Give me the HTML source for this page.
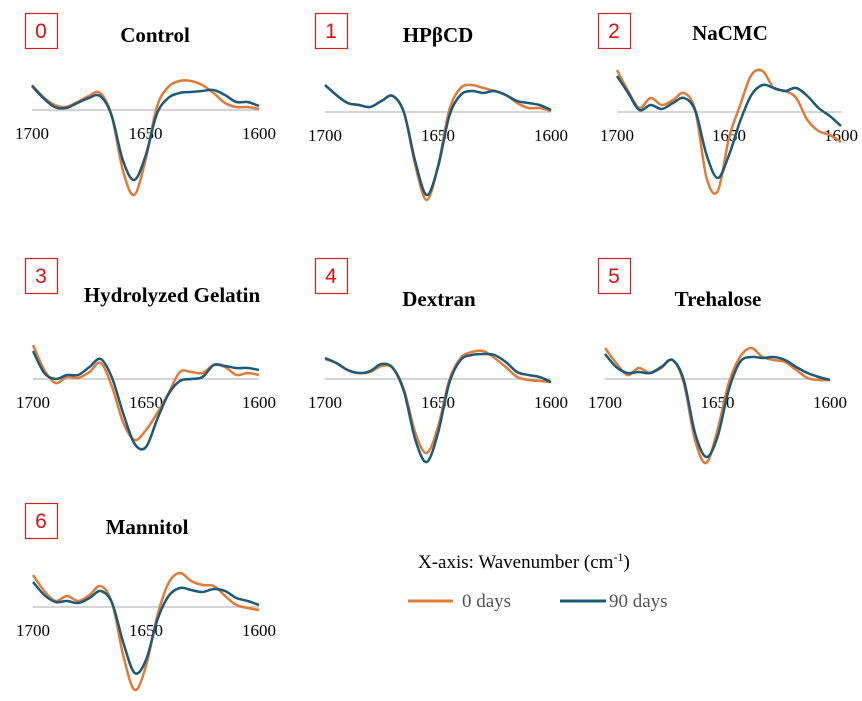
<!DOCTYPE html>
<html><head><meta charset="utf-8"><style>
body{margin:0;background:#fff;width:862px;height:701px;overflow:hidden}
svg{display:block}
.tk{font-family:"Liberation Serif",serif;font-size:17px;fill:#000}
.tt{font-family:"Liberation Serif",serif;font-size:21px;font-weight:bold;fill:#000}
.nb{font-family:"Liberation Sans",sans-serif;font-size:21px;fill:#e01010}
.lg{font-family:"Liberation Serif",serif;font-size:19px;fill:#555}
</style></head><body>
<svg id="chart" width="862" height="701">
<g>
<text x="418" y="568" class="tk" style="font-size:19px">X-axis: Wavenumber (cm<tspan dy="-7" font-size="12">-1</tspan><tspan dy="7">)</tspan></text>
<line x1="408" y1="601" x2="453" y2="601" stroke="#e07b39" stroke-width="3"/>
<text x="462" y="607" class="lg">0 days</text>
<line x1="560" y1="601" x2="606" y2="601" stroke="#1b5a78" stroke-width="3"/>
<text x="609" y="607" class="lg">90 days</text>
</g>
</svg>
<script>
const wavenumbers=[1700,1695,1690,1685,1680,1675,1670,1665,1660,1655,1650,1645,1640,1635,1630,1625,1620,1615,1610,1605,1600];
const panelNames=["Control","HPβCD","NaCMC","Hydrolyzed Gelatin","Dextran","Trehalose","Mannitol"];
const day0Control=[25,13,5,3,8,14,17,-5,-60,-85,-50,3,23,29,29,25,17,7,3,3,1];
const day90Control=[24,12,3,2,7,12,14,-5,-50,-70,-46,-4,12,17,18,19,20,15,8,8,4];
const day0HPBCD=[27,17,9,7,5,11,16,-1,-54,-88,-54,2,24,27,24,21,17,9,4,4,1];
const day90HPBCD=[27,17,9,7,5,11,16,-1,-50,-83,-55,-4,17,21,19,21,17,11,9,7,2];
const day0NaCMC=[42,21,4,14,7,12,19,1,-66,-79,-26,7,37,41,24,21,14,-8,-19,-23,-30];
const day90NaCMC=[36,19,2,7,3,9,14,1,-43,-66,-43,-9,17,27,24,21,24,16,4,-4,-14];
const day0Gelatin=[34,9,-4,2,1,7,16,-8,-44,-61,-51,-34,-14,7,7,6,14,12,4,6,4];
const day90Gelatin=[28,6,0,4,4,12,20,1,-35,-65,-68,-40,-15,-2,0,2,14,13,11,11,9];
const day0Dextran=[20,16,9,6,7,13,11,-11,-54,-74,-48,-1,21,27,28,21,12,2,-1,-2,-3];
const day90Dextran=[21,16,9,6,8,15,11,-13,-61,-83,-54,-4,19,24,25,24,17,7,4,2,-3];
const day0Trehalose=[31,16,4,11,6,11,19,-4,-61,-84,-51,-4,22,31,22,19,17,9,1,-1,-1];
const day90Trehalose=[25,12,6,7,6,12,19,-1,-54,-78,-58,-11,17,22,21,22,19,12,6,2,-1];
const day0Mannitol=[32,16,6,11,6,12,21,4,-49,-83,-59,-9,24,34,26,22,21,11,2,-1,-3];
const day90Mannitol=[25,12,5,6,4,9,16,4,-36,-66,-53,-13,11,19,17,15,18,16,9,6,2];
const tickLabels=["1700","1650","1600"];
const tickValues=[1700,1650,1600];
const series0=[day0Control,day0HPBCD,day0NaCMC,day0Gelatin,day0Dextran,day0Trehalose,day0Mannitol];
const series90=[day90Control,day90HPBCD,day90NaCMC,day90Gelatin,day90Dextran,day90Trehalose,day90Mannitol];
const L=[
 {x0:32,x1:259,b:110,bx:25,by:13,tx:155,ty:42},
 {x0:325,x1:551,b:112,bx:315,by:13,tx:438,ty:42},
 {x0:617,x1:841,b:112,bx:598,by:13,tx:730,ty:40},
 {x0:33,x1:259,b:379,bx:25,by:258,tx:172,ty:302},
 {x0:325,x1:551,b:379,bx:315,by:258,tx:439,ty:306},
 {x0:605,x1:830,b:379,bx:598,by:258,tx:718,ty:306},
 {x0:33,x1:259,b:607,bx:25,by:503,tx:147,ty:534}];
const NS="http://www.w3.org/2000/svg";
const svg=document.getElementById('chart');
function mk(t,a,p){const e=document.createElementNS(NS,t);for(const k in a)e.setAttribute(k,a[k]);p.appendChild(e);return e;}
function path(pts){let d="M"+pts[0][0]+","+pts[0][1];for(let i=0;i<pts.length-1;i++){const p0=pts[Math.max(0,i-1)],p1=pts[i],p2=pts[i+1],p3=pts[Math.min(pts.length-1,i+2)];
d+=" C"+(p1[0]+(p2[0]-p0[0])/6)+","+(p1[1]+(p2[1]-p0[1])/6)+" "+(p2[0]-(p3[0]-p1[0])/6)+","+(p2[1]-(p3[1]-p1[1])/6)+" "+p2[0]+","+p2[1];}return d;}
panelNames.forEach((nm,i)=>{
 const l=L[i];
 const g=mk('g',{},svg);
 
 
 const xs=w=>l.x0+(1700-w)/100*(l.x1-l.x0);
 const ys=v=>l.b-v;
 const r=mk('rect',{x:l.bx+0.5,y:l.by+0.5,width:32,height:35,fill:'none',stroke:'#d42020','stroke-width':1.2},g);
 
 
 const n=mk('text',{x:l.bx+16,y:l.by+25,'text-anchor':'middle',class:'nb'},g);n.textContent=i;
 
 
 const t=mk('text',{x:l.tx,y:l.ty,'text-anchor':'middle',class:'tt'},g);t.textContent=nm;
 
 
 const ax=mk('line',{x1:l.x0,x2:l.x1,y1:l.b,y2:l.b,stroke:'#bcbcbc','stroke-width':1.2},g);
 
 
 tickValues.forEach((v,k)=>{const tx=mk('text',{x:xs(v),y:l.b+29,'text-anchor':'middle',class:'tk'},g);tx.textContent=tickLabels[k];
  
  });
 [[series0[i],'#e07b39','series-0-days'],[series90[i],'#1b5a78','series-90-days']].forEach(([s,c,name])=>{
  const pts=s.map((v,k)=>[xs(wavenumbers[k]),ys(v)]);
  const p=mk('path',{d:path(pts),fill:'none',stroke:c,'stroke-width':2.5},g);
  
  
 });
});
</script>
</body></html>
